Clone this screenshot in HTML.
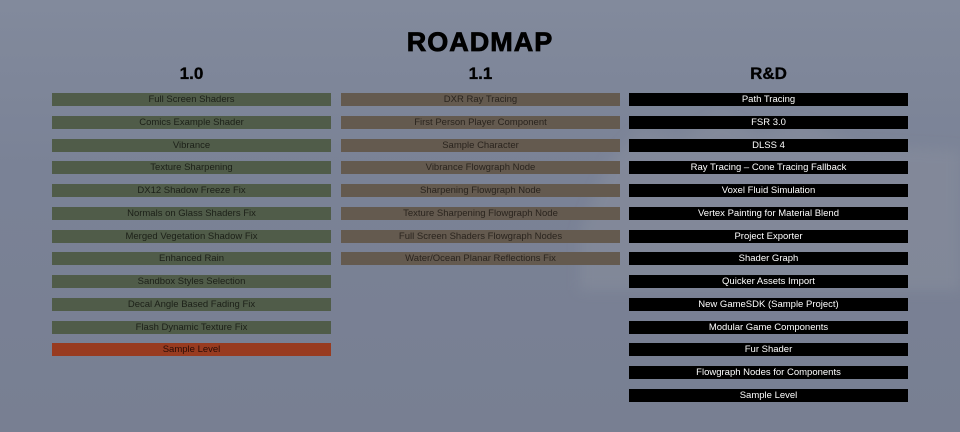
<!DOCTYPE html>
<html><head><meta charset="utf-8"><style>
*{margin:0;padding:0;box-sizing:border-box}
body{width:960px;height:432px;overflow:hidden;position:relative;background:linear-gradient(#828a9c,#7a8296 40%,#787f92);font-family:"Liberation Sans",sans-serif}
svg.bg{position:absolute;left:0;top:0}
h1{position:absolute;top:27px;width:960px;text-align:center;font-size:27px;font-weight:bold;color:#000;letter-spacing:1px;-webkit-text-stroke:0.8px #000}
.h{position:absolute;top:64px;width:279px;text-align:center;font-size:17px;font-weight:bold;color:#000;-webkit-text-stroke:0.3px #000}
.b{position:absolute;width:279px;height:13px;font-size:9.5px;line-height:14px;text-align:center;white-space:nowrap}
.g{background:#505c49;color:#1c2018}
.r{background:#983b20;color:#2a0c05}
.n{background:#645a4f;color:#2a241e}
.k{background:#000;color:#fff}
</style></head><body>
<svg class="bg" width="960" height="432"><defs><filter id="f"><feGaussianBlur stdDeviation="6"/></filter></defs><g filter="url(#f)"><polygon points="580,230 610,160 640,130 680,140 720,115 760,135 800,122 860,145 960,150 960,290 580,290" fill="#8a909e" opacity="0.5"/></g></svg>
<h1>ROADMAP</h1>
<div class="h" style="left:52px">1.0</div>
<div class="h" style="left:341px">1.1</div>
<div class="h" style="left:629px">R&amp;D</div>
<div id="c"></div>
<script>
var c1=["Full Screen Shaders","Comics Example Shader","Vibrance","Texture Sharpening","DX12 Shadow Freeze Fix","Normals on Glass Shaders Fix","Merged Vegetation Shadow Fix","Enhanced Rain","Sandbox Styles Selection","Decal Angle Based Fading Fix","Flash Dynamic Texture Fix","Sample Level"];
var c2=["DXR Ray Tracing","First Person Player Component","Sample Character","Vibrance Flowgraph Node","Sharpening Flowgraph Node","Texture Sharpening Flowgraph Node","Full Screen Shaders Flowgraph Nodes","Water/Ocean Planar Reflections Fix"];
var c3=["Path Tracing","FSR 3.0","DLSS 4","Ray Tracing \u2013 Cone Tracing Fallback","Voxel Fluid Simulation","Vertex Painting for Material Blend","Project Exporter","Shader Graph","Quicker Assets Import","New GameSDK (Sample Project)","Modular Game Components","Fur Shader","Flowgraph Nodes for Components","Sample Level"];
var h="";
function col(a,x,cls){a.forEach(function(t,i){var k=cls;if(cls=="g"&&i==a.length-1)k="r";h+='<div class="b '+k+'" style="left:'+x+'px;top:'+Math.round(93+i*22.77)+'px">'+t+'</div>';});}
col(c1,52,"g");col(c2,341,"n");col(c3,629,"k");
document.getElementById("c").innerHTML=h;
</script>
</body></html>
